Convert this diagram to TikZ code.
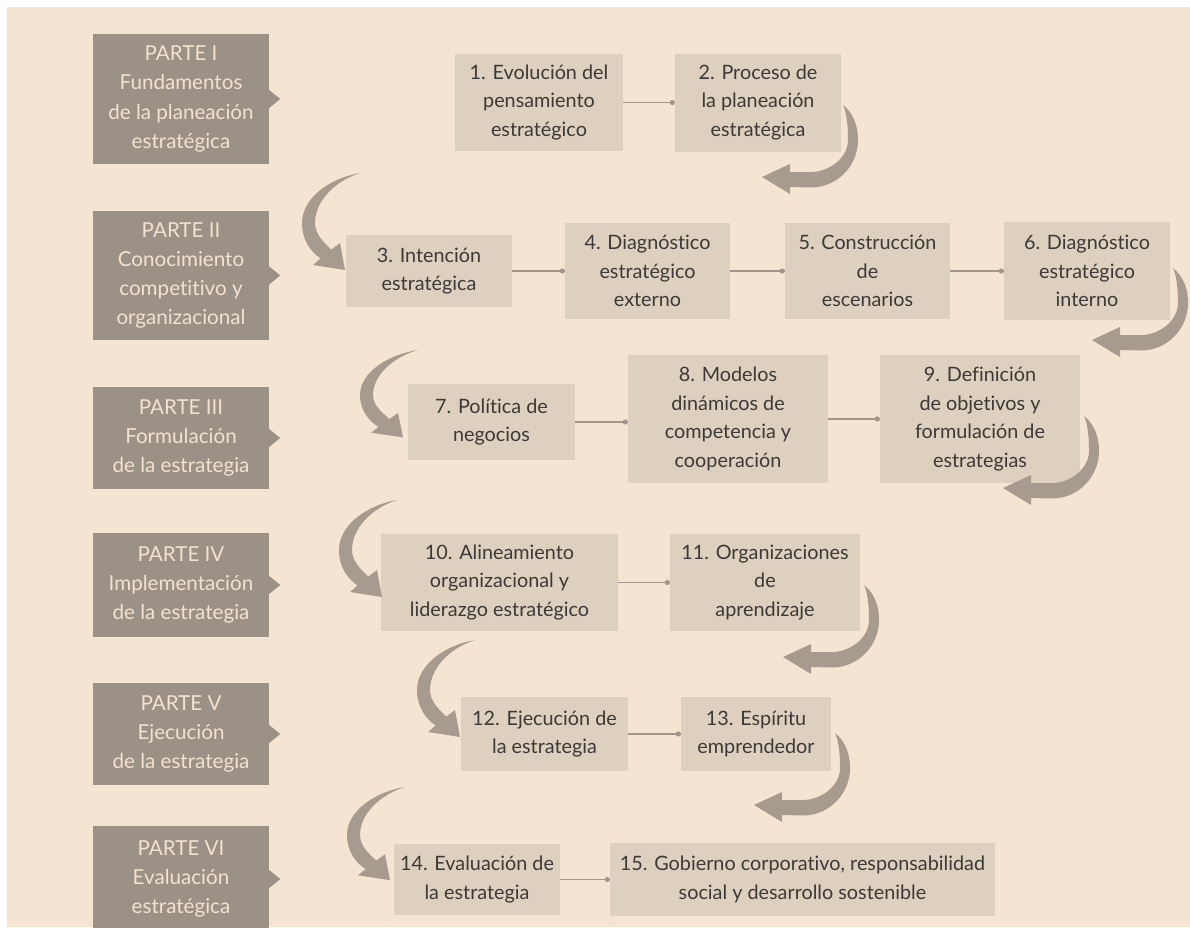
\documentclass[tikz,border=0pt]{standalone}
\usepackage{fontspec}
\setmainfont{Lato}[Ligatures=NoCommon]
\definecolor{bgc}{HTML}{F5E4D2}
\definecolor{darkc}{HTML}{9C9186}
\definecolor{darktext}{HTML}{F2E2CF}
\definecolor{lightc}{HTML}{DDD0BE}
\definecolor{lighttext}{HTML}{3B3A38}
\definecolor{arrowc}{HTML}{A69B8E}
\definecolor{connc}{HTML}{A0968B}
\tikzset{
  lbox/.style={fill=lightc, text=lighttext, align=center, inner sep=0pt,
    font=\fontsize{19.8}{28.5}\selectfont},
  pbox/.style={fill=darkc, text=darktext, align=center, inner sep=0pt,
    font=\fontsize{20.6}{29.3}\selectfont},
  conn/.style={draw=connc, line width=1.8pt},
  carrowA/.pic={\fill[arrowc] (0,0) .. controls (10,8) and (15,20) .. (15,35)
     .. controls (15,61) and (-6,82.5) .. (-32,82.5) -- (-53,82) -- (-53,89)
     -- (-81,72) -- (-53,59) -- (-53,67) -- (-32,67)
     .. controls (-14,67) and (5,53) .. (5,35)
     .. controls (5,18) and (3,6) .. (0,0) -- cycle;},
  carrowB/.pic={\fill[arrowc] (0,0) .. controls (-30,5) and (-58,25) .. (-58,50)
     .. controls (-58,68) and (-48,80) .. (-39.4,85.4) -- (-47,92) -- (-15,97)
     -- (-20,70) -- (-28.6,76.6)
     .. controls (-38,68) and (-45,60) .. (-45,50)
     .. controls (-45,28) and (-25,8) .. (0,0) -- cycle;}
}
\newcommand{\ptip}[1]{\fill[darkc] (#1.east) ++(0,-9) -- ++(11,9) -- ++(-11,9) -- cycle;}
\newcommand{\link}[2]{\draw[conn] (#1.east) -- (#1.east -| #2.west);
  \fill[connc] (#1.east -| #2.west) ++(-2.5,0) circle (2.6pt);}
\begin{document}
\begin{tikzpicture}[x=1pt,y=-1pt]
\useasboundingbox (0,0) rectangle (1190,927);
\clip (0,0) rectangle (1190,927);
\fill[white] (0,0) rectangle (1190,927);
\fill[bgc] (7,7) rectangle (1190,927);

% Parts
\node[pbox, minimum width=176pt, minimum height=130pt] (p1) at (181,99) {PARTE I\\Fundamentos\\de la planeación\\estratégica};
\node[pbox, minimum width=176pt, minimum height=129pt] (p2) at (181,275.5) {PARTE II\\Conocimiento\\competitivo y\\organizacional};
\node[pbox, minimum width=176pt, minimum height=102pt] (p3) at (181,438) {PARTE III\\Formulación\\de la estrategia};
\node[pbox, minimum width=176pt, minimum height=104pt] (p4) at (181,585) {PARTE IV\\Implementación\\de la estrategia};
\node[pbox, minimum width=176pt, minimum height=102pt] (p5) at (181,734) {PARTE V\\Ejecución\\de la estrategia};
\node[pbox, minimum width=176pt, minimum height=106pt] (p6) at (181,879) {PARTE VI\\Evaluación\\estratégica};
\ptip{p1}\ptip{p2}\ptip{p3}\ptip{p4}\ptip{p5}\ptip{p6}

% Chapters
\node[lbox, minimum width=168pt, minimum height=97pt] (b1) at (539,102.5) {1. Evolución del\\pensamiento\\estratégico};
\node[lbox, minimum width=166pt, minimum height=98pt] (b2) at (758,102.5) {2. Proceso de\\la planeación\\estratégica};
\node[lbox, minimum width=166pt, minimum height=72pt] (b3) at (429,271) {3. Intención\\estratégica};
\node[lbox, minimum width=165pt, minimum height=96pt] (b4) at (647.5,271) {4. Diagnóstico\\estratégico\\externo};
\node[lbox, minimum width=165pt, minimum height=96pt] (b5) at (867.5,271) {5. Construcción\\de\\escenarios};
\node[lbox, minimum width=166pt, minimum height=98pt] (b6) at (1087,271) {6. Diagnóstico\\estratégico\\interno};
\node[lbox, minimum width=167pt, minimum height=76pt] (b7) at (491.5,422) {7. Política de\\negocios};
\node[lbox, minimum width=200pt, minimum height=128pt] (b8) at (728,419) {8. Modelos\\dinámicos de\\competencia y\\cooperación};
\node[lbox, minimum width=200pt, minimum height=128pt] (b9) at (980,419) {9. Definición\\de objetivos y\\formulación de\\estrategias};
\node[lbox, minimum width=237pt, minimum height=97pt] (b10) at (499.5,582.5) {10. Alineamiento\\organizacional y\\liderazgo estratégico};
\node[lbox, minimum width=190pt, minimum height=97pt] (b11) at (765,582.5) {11. Organizaciones\\de\\aprendizaje};
\node[lbox, minimum width=167pt, minimum height=74pt] (b12) at (544.5,734) {12. Ejecución de\\la estrategia};
\node[lbox, minimum width=150pt, minimum height=74pt] (b13) at (756,734) {13. Espíritu\\emprendedor};
\node[lbox, minimum width=166pt, minimum height=71pt] (b14) at (477,879.5) {14. Evaluación de\\la estrategia};
\node[lbox, minimum width=385pt, minimum height=73pt] (b15) at (802.5,879.5) {15. Gobierno corporativo, responsabilidad\\social y desarrollo sostenible};

% Connectors
\link{b1}{b2}
\link{b3}{b4}\link{b4}{b5}\link{b5}{b6}
\link{b7}{b8}\link{b8}{b9}
\link{b10}{b11}
\link{b12}{b13}
\link{b14}{b15}

% Curved arrows
\pic at (843,105) {carrowA};
\pic at (1173,268) {carrowA};
\pic at (1084,416) {carrowA};
\pic at (864,585) {carrowA};
\pic at (835,733) {carrowA};

\pic at (360,173) {carrowB};
\pic[yscale=0.9] at (418,350) {carrowB};
\pic at (397,500) {carrowB};
\pic at (475,640) {carrowB};
\pic[yscale=0.96] at (405,787) {carrowB};
\end{tikzpicture}
\end{document}
